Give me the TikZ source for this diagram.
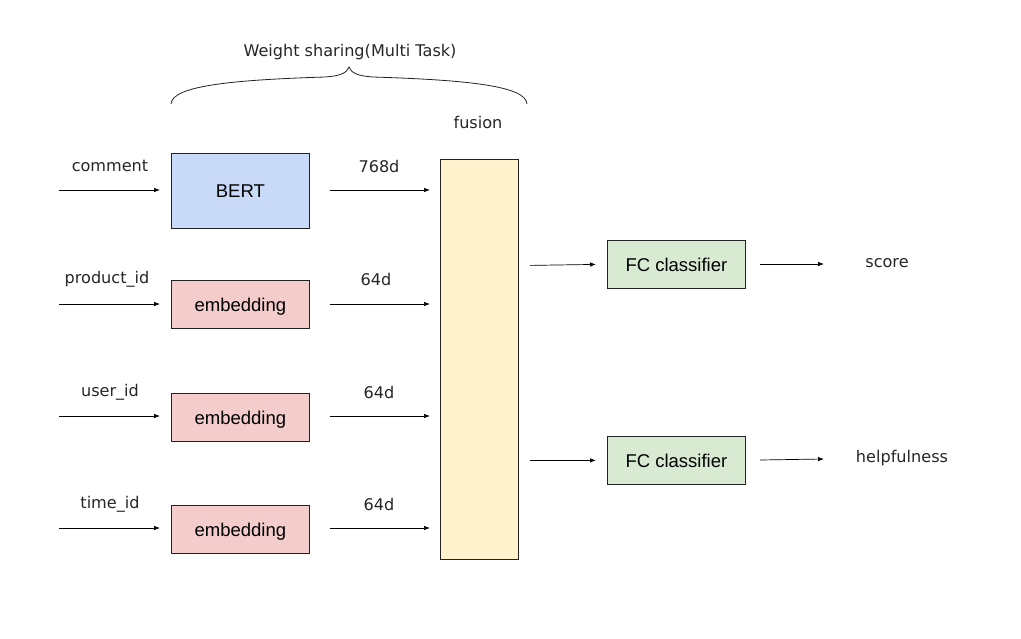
\documentclass[tikz,border=0pt]{standalone}
\usepackage{fontspec}
\setmainfont{DejaVu Sans}
\newfontfamily\boxfont{Liberation Sans}
\usetikzlibrary{arrows.meta}
\definecolor{bertblue}{HTML}{C9DAF8}
\definecolor{embred}{HTML}{F4CCCC}
\definecolor{fusionyellow}{HTML}{FFF2CC}
\definecolor{fcgreen}{HTML}{D9EAD3}
\definecolor{edgegrey}{HTML}{222222}
\tikzset{
  blk/.style={draw=edgegrey, line width=0.8pt, inner sep=0pt, anchor=north west,
    font=\boxfont\fontsize{18.5}{20}\selectfont},
  embbox/.style={blk, fill=embred, minimum width=138pt, minimum height=48pt, text depth=0pt},
  lbl/.style={font=\fontsize{16.1}{18}\selectfont, inner sep=0pt, text=black!85},
  arr/.style={line width=0.7pt, -{Latex[length=6pt,width=4.5pt]}},
}
\begin{document}
\begin{tikzpicture}[x=1pt,y=-1pt]
\useasboundingbox (0,0) rectangle (1021,638);
% boxes
\node[blk, fill=bertblue, minimum width=138pt, minimum height=75pt] (bert) at (171,153) {BERT};
\node[embbox] (emb1) at (171,280) {embedding};
\node[embbox] (emb2) at (171,393) {embedding};
\node[embbox] (emb3) at (171,505) {embedding};
\node[blk, fill=fusionyellow, minimum width=78pt, minimum height=400pt] (fusion) at (440,159) {};
\node[blk, fill=fcgreen, minimum width=138pt, minimum height=48pt] (fc1) at (607,240) {FC classifier};
\node[blk, fill=fcgreen, minimum width=138pt, minimum height=48pt] (fc2) at (607,436) {FC classifier};
% labels
\node[lbl] (tw) at (350,52) {Weight sharing(Multi Task)};
\node[lbl] (tfu) at (478,122) {fusion};
\node[lbl] (l1) at (110,166) {comment};
\node[lbl] (l2) at (107,279) {product\_id};
\node[lbl] (l3) at (110,392) {user\_id};
\node[lbl] (l4) at (110,504) {time\_id};
\node[lbl] (d1) at (379,166) {768d};
\node[lbl] (d2) at (376,279) {64d};
\node[lbl] (d3) at (379,392) {64d};
\node[lbl] (d4) at (379,504) {64d};
\node[lbl] (score) at (887,263) {score};
\node[lbl] (help) at (902,458) {helpfulness};
% input coordinates
\coordinate (i1) at (59,190);
\coordinate (i2) at (59,304);
\coordinate (i3) at (59,416);
\coordinate (i4) at (59,528);
\draw[arr] (i1) -- ([xshift=-11pt]bert.west |- i1);
\draw[arr] (i2) -- ([xshift=-11pt]emb1.west |- i2);
\draw[arr] (i3) -- ([xshift=-11pt]emb2.west |- i3);
\draw[arr] (i4) -- ([xshift=-11pt]emb3.west |- i4);
% to fusion
\draw[arr] ([xshift=20pt]bert.east |- i1) -- ([xshift=-10pt]fusion.west |- i1);
\draw[arr] ([xshift=20pt]emb1.east |- i2) -- ([xshift=-10pt]fusion.west |- i2);
\draw[arr] ([xshift=20pt]emb2.east |- i3) -- ([xshift=-10pt]fusion.west |- i3);
\draw[arr] ([xshift=20pt]emb3.east |- i4) -- ([xshift=-10pt]fusion.west |- i4);
% fusion to FC
\draw[arr] ([xshift=11pt,yshift=-1pt]fusion.east |- fc1.west) -- ([xshift=-11pt]fc1.west);
\draw[arr] ([xshift=11pt]fusion.east |- fc2.west) -- ([xshift=-11pt]fc2.west);
% FC outputs
\coordinate (o1) at (824,264);
\coordinate (o2) at (824,459);
\draw[arr] ([xshift=14pt]fc1.east |- o1) -- (o1);
\draw[arr] ([xshift=14pt,yshift=-1pt]fc2.east |- o2) -- (o2);
% brace
\coordinate (bl) at (171,104);
\coordinate (br) at (527,104);
\coordinate (bt) at (349,67);
\draw[line width=0.8pt, edgegrey] (bl) .. controls (172,86) and (230,80) .. (325,77)
  .. controls (340,76) and (347,73) .. (bt)
  .. controls (351,73) and (358,76) .. (373,77)
  .. controls (468,80) and (526,86) .. (br);
\end{tikzpicture}
\end{document}
